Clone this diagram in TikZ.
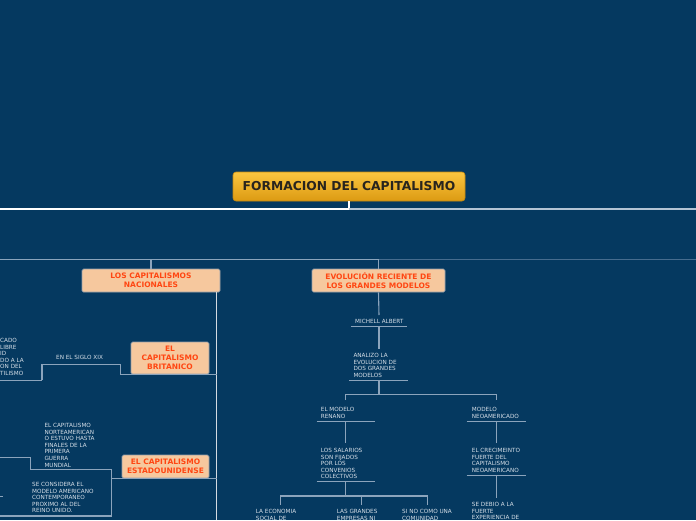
\documentclass[tikz,border=0pt]{standalone}
\usepackage{fontspec}
\setmainfont{DejaVu Sans}
\definecolor{bg}{RGB}{5,57,96}
\definecolor{tc}{RGB}{214,223,232}
\definecolor{ln}{RGB}{140,164,188}
\definecolor{lndark}{RGB}{70,108,142}
\definecolor{trunk}{RGB}{212,219,226}
\definecolor{peach}{RGB}{246,200,158}
\definecolor{peachline}{RGB}{150,160,170}
\definecolor{redtxt}{RGB}{255,70,18}
\definecolor{goldtop}{RGB}{251,198,64}
\definecolor{goldbot}{RGB}{220,154,18}
\definecolor{goldline}{RGB}{196,136,16}
\tikzset{
  txt/.style={anchor=north west, inner sep=0pt, align=left, text=tc, font=\fontsize{5.7}{6.6}\selectfont},
  cbox/.style={draw=peachline, line width=0.7pt, fill=peach, rounded corners=1.5pt, text=redtxt, align=center, inner sep=0pt, font=\bfseries\fontsize{7.5}{9}\selectfont},
  titlebox/.style={draw=goldline, line width=0.6pt, top color=goldtop, bottom color=goldbot, rounded corners=3pt, text={rgb,255:red,40;green,36;blue,30}, inner sep=0pt, font=\bfseries\fontsize{12.3}{14}\selectfont},
  conn/.style={draw=ln, line width=1.1pt},
  uline/.style={draw=ln, line width=1.3pt}
}
\begin{document}
\begin{tikzpicture}[x=1pt,y=-1pt]
\fill[bg] (0,0) rectangle (696,520);
\useasboundingbox (0,0) rectangle (696,520);
\clip (0,0) rectangle (696,520);

% title and top lines
\node[titlebox, minimum width=232pt, minimum height=29pt] (title) at (349,186.5) {FORMACION DEL CAPITALISMO};
\coordinate (tjoin) at (349,208.5);
\draw[white, line width=2pt] (title.south) -- (tjoin);
\draw[white, line width=2pt] (0,208.5) -- (tjoin);
\draw[draw={rgb,255:red,180;green,196;blue,212}, line width=2pt] (tjoin) -- (696,208.5);

\coordinate (bjoin) at (379,259.5);
\draw[draw={rgb,255:red,138;green,164;blue,188}, line width=1.6pt] (0,259.5) -- (bjoin);
\draw[draw=lndark, line width=1.6pt] (bjoin) -- (696,259.5);

% main boxes
\node[cbox, minimum width=138pt, minimum height=23pt] (nac) at (151,280.5) {LOS CAPITALISMOS\\NACIONALES};
\node[cbox, minimum width=133pt, minimum height=23pt] (evo) at (378.5,280.5) {EVOLUCIÓN RECIENTE DE\\LOS GRANDES MODELOS};
\draw[conn] (nac.north) -- (nac.north |- bjoin);
\draw[conn] (evo.north) -- (evo.north |- bjoin);

% trunk
\coordinate (trtop) at (216.5,292);
\coordinate (trbot) at (216.5,520);
\draw[draw=trunk, line width=1.5pt] (trtop) -- (trbot);

% britanico branch
\node[cbox, minimum width=78pt, minimum height=32pt] (brit) at (170,358) {EL\\CAPITALISMO\\BRITANICO};
\node[txt] (siglo) at (56,355.3) {EN EL SIGLO XIX};
\node[txt] (crop) at (0,338) {CADO\\LIBRE\\ID\\DO A LA\\ON DEL\\TILISMO};
\coordinate (b1) at (216.5,374.3);
\coordinate (b2) at (120.5,374.3);
\coordinate (b3) at (120.5,364.3);
\coordinate (b4) at (42,364.3);
\coordinate (b5) at (42,380.3);
\coordinate (b6) at (0,380.3);
\draw[conn] (b1) -- (b2) -- (b3);
\draw[uline] (b3) -- (b4);
\draw[conn] (b4) -- (b5);
\draw[uline] (b5) -- (b6);

% estadounidense branch
\node[cbox, minimum width=87pt, minimum height=23pt] (eeuu) at (165.5,466.5) {EL CAPITALISMO\\ESTADOUNIDENSE};
\node[txt] (norte) at (44.3,423) {EL CAPITALISMO\\NORTEAMERICAN\\O ESTUVO HASTA\\FINALES DE LA\\PRIMERA\\GUERRA\\MUNDIAL};
\node[txt] (consid) at (32,482) {SE CONSIDERA EL\\MODELO AMERICANO\\CONTEMPORANEO\\PROXIMO AL DEL\\REINO UNIDO.};
\coordinate (e1) at (216.5,478.7);
\coordinate (e2) at (111.7,478.7);
\coordinate (e3) at (111.7,469.3);
\coordinate (e4) at (111.7,516);
\coordinate (e5) at (30.3,469.3);
\coordinate (e6) at (30.3,457.3);
\coordinate (e7) at (0,457.3);
\coordinate (e8) at (0,516);
\draw[conn] (e1) -- (e2);
\draw[conn] (e3) -- (e4);
\draw[uline] (e3) -- (e5);
\draw[conn] (e5) -- (e6);
\draw[uline] (e6) -- (e7);
\draw[uline] (e4) -- (e8);
\draw[conn] (0,496.7) -- (2.5,496.7);

% right tree
\node[txt] (mich) at (355,319.2) {MICHELL ALBERT};
\node[txt] (anal) at (353.3,353) {ANALIZO LA\\EVOLUCION DE\\DOS GRANDES\\MODELOS};
\node[txt] (renano) at (320.7,407) {EL MODELO\\RENANO};
\node[txt] (neo) at (471.7,407) {MODELO\\NEOAMERICADO};
\node[txt] (sal) at (320.7,448) {LOS SALARIOS\\SON FIJADOS\\POR LOS\\CONVENIOS\\COLECTIVOS};
\node[txt] (crec) at (471.7,448) {EL CRECIMEINTO\\FUERTE DEL\\CAPITALISMO\\NEOAMERICANO};
\node[txt] (debio) at (471.7,502) {SE DEBIO A LA\\FUERTE\\EXPERIENCIA DE};
\node[txt] (econ) at (255.7,509) {LA ECONOMIA\\SOCIAL DE};
\node[txt] (grand) at (336.7,509) {LAS GRANDES\\EMPRESAS NI};
\node[txt] (sino) at (402,509) {SI NO COMO UNA\\COMUNIDAD};

\draw[conn] (evo.south) -- (379,315);
\draw[uline] (351,326.7) -- (407,326.7);
\draw[conn] (379,326.7) -- (379,349);
\draw[uline] (349,380.7) -- (408,380.7);
\draw[conn] (379,380.7) -- (379,394.5);
\draw[conn] (345.7,400) -- (345.7,394.5) -- (496.7,394.5) -- (496.7,400);
\draw[uline] (316.7,421.7) -- (375,421.7);
\draw[uline] (466.7,421.7) -- (525.7,421.7);
\draw[conn] (345.7,421.7) -- (345.7,443.3);
\draw[conn] (496.7,421.7) -- (496.7,443.3);
\draw[uline] (316.7,481.7) -- (375,481.7);
\draw[uline] (466.7,475.7) -- (525.7,475.7);
\draw[conn] (345.7,481.7) -- (345.7,496);
\draw[conn] (280.7,505) -- (280.7,496) -- (427.3,496) -- (427.3,505);
\draw[conn] (361.3,496) -- (361.3,505);
\draw[conn] (496.7,475.7) -- (496.7,498.3);
\end{tikzpicture}
\end{document}
